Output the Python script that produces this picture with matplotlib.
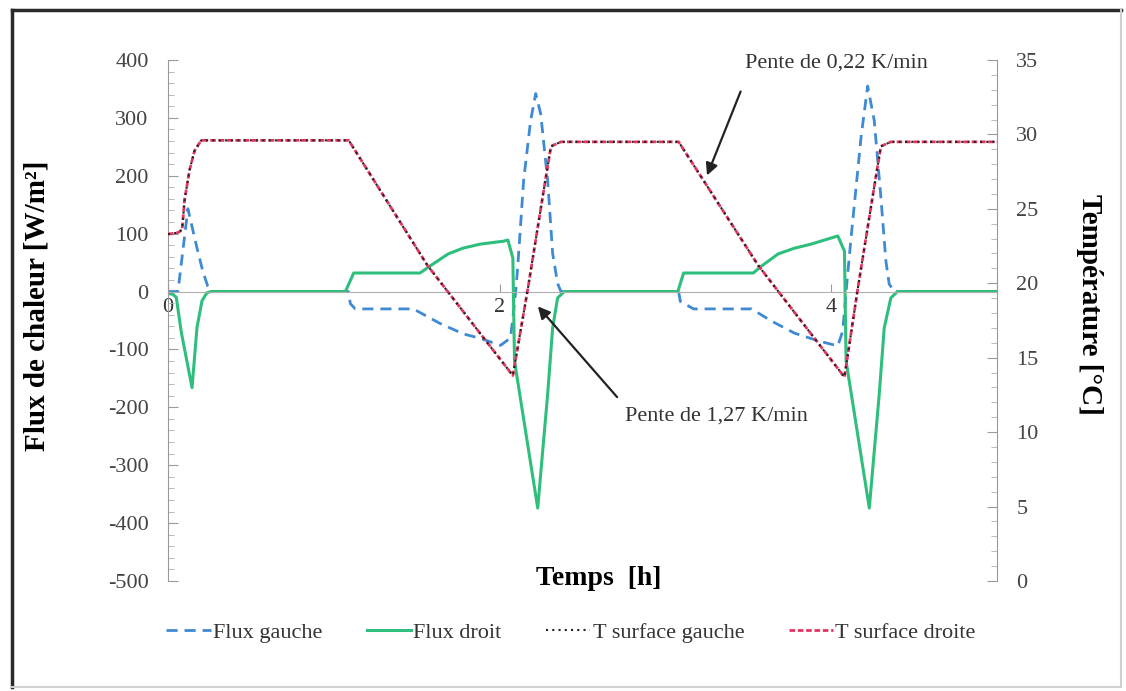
import numpy as np
import matplotlib
matplotlib.use('Agg')
import matplotlib.pyplot as plt
from matplotlib.lines import Line2D
from matplotlib.ticker import MultipleLocator

plt.rcParams['font.family'] = ['Liberation Serif', 'DejaVu Serif']
plt.rcParams['axes.unicode_minus'] = False

# temps [h] / temperature de surface [C]
t_temp = [0, 0.06, 0.085, 0.10, 0.13, 0.16, 0.20, 1.09, 1.565, 2.08, 2.17, 2.27, 2.31, 2.37,
          3.08, 3.56, 4.08, 4.16, 4.26, 4.30, 4.36, 5.0]
T_gauche = [23.3, 23.4, 23.6, 25.6, 27.6, 28.9, 29.6, 29.6, 21.2, 13.8, 19.6, 26.5, 29.2, 29.5,
            29.5, 21.2, 13.7, 19.6, 26.5, 29.2, 29.5, 29.5]
T_droite = [23.3, 23.4, 23.6, 25.6, 27.6, 28.9, 29.6, 29.6, 21.2, 13.8, 19.6, 26.5, 29.2, 29.5,
            29.5, 21.2, 13.7, 19.6, 26.5, 29.2, 29.5, 29.5]

# flux gauche [W/m2]
t_fg = [0, 0.06, 0.12, 0.175, 0.21, 0.24, 0.265, 1.088, 1.10, 1.13, 1.48, 1.64, 1.78, 1.885, 2.006,
        2.066, 2.085, 2.097, 2.109, 2.145, 2.187, 2.218, 2.248, 2.29, 2.32, 2.35, 2.37,
        3.08, 3.09, 3.17, 3.52, 3.64, 3.78, 3.92, 4.04, 4.07, 4.09, 4.12, 4.18, 4.22, 4.26,
        4.30, 4.33, 4.35, 4.38, 5.0]
flux_gauche = [0, 0, 143, 75, 35, 9, 0, 0, -21, -30, -30, -55, -73, -81, -93,
               -80, -33, 0, 41, 192, 295, 342, 307, 192, 66, 14, 0,
               0, -17, -30, -30, -51, -72, -85, -94, -68, 0, 93, 266, 355, 295,
               162, 53, 13, 0, 0]

# flux droit [W/m2]
t_fd = [0, 0.03, 0.05, 0.08, 0.145, 0.175, 0.205, 0.235, 0.26, 1.07, 1.12, 1.52, 1.58, 1.69, 1.78,
        1.885, 2.024, 2.05, 2.08, 2.09, 2.23, 2.29, 2.32, 2.35, 2.39,
        3.075, 3.11, 3.53, 3.58, 3.68, 3.78, 3.88, 4.04, 4.08, 4.09, 4.23, 4.29, 4.32, 4.36, 4.40, 5.0]
flux_droit = [-3, -5, -10, -70, -166, -62, -16, -2, 0, 0, 32, 32, 44, 65, 75,
              82, 87, 89, 58, -120, -374, -177, -63, -11, 0,
              0, 32, 32, 44, 65, 75, 82, 96, 70, -120, -374, -177, -63, -11, 0, 0]

fig = plt.figure(figsize=(11.26, 6.91), dpi=100)
ax = fig.add_axes([0.1492, 0.1592, 0.7362, 0.754])
ax2 = ax.twinx()

c_blue = '#3f8ad2'
c_green = '#2fbf7c'
c_red = '#e2355f'

ax.plot(t_fg, flux_gauche, color=c_blue, lw=2.0, ls=(0, (4, 2.5)), label='Flux gauche')
ax.plot(t_fd, flux_droit, color=c_green, lw=2.2, label='Flux droit')
ax2.plot(t_temp, T_droite, color=c_red, lw=2.0, ls=(0, (2, 1)), label='T surface droite')
ax2.plot(t_temp, T_gauche, color='#222222', lw=1.5, ls=(0, (1, 2)), label='T surface gauche')

ax.set_xlim(0, 5)
ax.set_ylim(-500, 400)
ax2.set_ylim(0, 35)

ax.set_xticks([0, 2, 4])
ax.yaxis.set_major_locator(MultipleLocator(100))
ax.yaxis.set_minor_locator(MultipleLocator(20))
ax2.yaxis.set_major_locator(MultipleLocator(5))
ax2.yaxis.set_minor_locator(MultipleLocator(1))

for a in (ax, ax2):
    a.spines['top'].set_visible(False)
    for s in a.spines.values():
        s.set_color('#9a9a9a')
ax.spines['right'].set_visible(False)
ax2.spines['left'].set_visible(False)
ax2.spines['bottom'].set_visible(False)
ax.spines['bottom'].set_position(('data', 0))
ax.spines['bottom'].set_color('#b0b0b0')

ax.tick_params(axis='y', which='major', direction='in', length=7, pad=14, labelsize=16,
               colors='#9a9a9a', labelcolor='#444444')
ax.tick_params(axis='y', which='minor', direction='in', length=4, colors='#b0b0b0')
ax.tick_params(axis='x', which='major', direction='in', length=6, pad=5, labelsize=16,
               colors='#9a9a9a', labelcolor='#333333')
ax2.tick_params(axis='y', which='major', direction='in', length=7, pad=14, labelsize=16,
                colors='#9a9a9a', labelcolor='#444444')
ax2.tick_params(axis='y', which='minor', direction='in', length=4, colors='#b0b0b0')

ax.set_ylabel('Flux de chaleur [W/m²]', fontsize=21, fontweight='bold')
ax.yaxis.set_label_coords(-0.142, 0.528)
ax2.set_ylabel('Température [°C]', fontsize=21, fontweight='bold', rotation=-90, va='center')
ax2.yaxis.set_label_coords(1.112, 0.53)
ax.set_xlabel('Temps  [h]', fontsize=20, fontweight='bold')
ax.xaxis.set_label_coords(0.52, 0.028)

# annotations des pentes
ax.text(4.03, 395, 'Pente de 0,22 K/min', fontsize=16, color='#333333', ha='center', va='center')
ax.annotate('', xy=(3.245, 196), xytext=(3.46, 350),
            arrowprops=dict(arrowstyle='-|>', color='#222222', lw=1.6, mutation_scale=18))
ax.text(3.31, -215, 'Pente de 1,27 K/min', fontsize=16, color='#333333', ha='center', va='center')
ax.annotate('', xy=(2.22, -22), xytext=(2.72, -186),
            arrowprops=dict(arrowstyle='-|>', color='#222222', lw=1.6, mutation_scale=18))

h1, l1 = ax.get_legend_handles_labels()
h2, l2 = ax2.get_legend_handles_labels()
handles = h1 + [h2[1], h2[0]]
labels = l1 + [l2[1], l2[0]]
fig.legend(handles, labels, loc='center', bbox_to_anchor=(0.507, 0.084), ncol=4, frameon=False,
           fontsize=16, handlelength=2.0, handletextpad=0.1, columnspacing=2.0,
           labelcolor='#333333')

# cadre de la figure
fig.add_artist(Line2D([12 / 1126, 12 / 1126], [1 - 10 / 691, 1 - 687 / 691], color='#2a2a2a', lw=2.5))
fig.add_artist(Line2D([12 / 1126, 1121 / 1126], [1 - 10 / 691, 1 - 10 / 691], color='#2a2a2a', lw=2.5))
fig.add_artist(Line2D([1121 / 1126, 1121 / 1126], [1 - 10 / 691, 1 - 687 / 691], color='#d0d0d0', lw=1.5))
fig.add_artist(Line2D([12 / 1126, 1121 / 1126], [1 - 687 / 691, 1 - 687 / 691], color='#d0d0d0', lw=1.5))

fig.savefig('out.png', dpi=100)
